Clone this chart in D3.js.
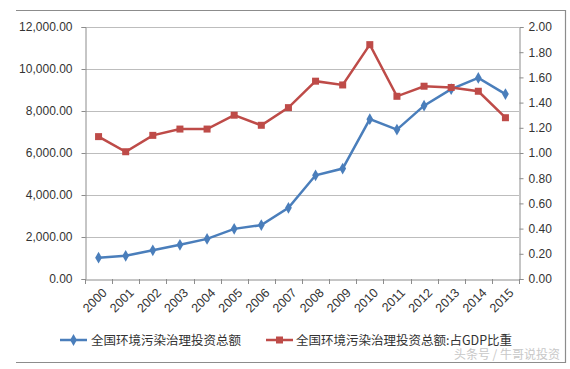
<!DOCTYPE html>
<html>
<head>
<meta charset="utf-8">
<script src="https://d3js.org/d3.v7.min.js"></script>
<style>
  body { margin: 0; background: #fff; }
  svg { display: block; }
  text { font-family: "Liberation Sans", Arial, sans-serif; }
</style>
</head>
<body>
<svg id="chart" width="570" height="369"></svg>
<script>
var years = ["2000","2001","2002","2003","2004","2005","2006","2007",
             "2008","2009","2010","2011","2012","2013","2014","2015"];
// 全国环境污染治理投资总额 (亿元)
var totalInvest = [1014.9, 1106.6, 1367.2, 1627.7, 1909.8, 2388.0, 2566.0, 3387.3,
                   4937.0, 5258.4, 7612.2, 7114.0, 8253.5, 9037.2, 9575.5, 8806.3];
// 占GDP比重 (%)
var gdpShare = [1.13, 1.01, 1.14, 1.19, 1.19, 1.30, 1.22, 1.36,
                1.57, 1.54, 1.86, 1.45, 1.53, 1.52, 1.49, 1.28];
var leftTicks = [0, 2000, 4000, 6000, 8000, 10000, 12000];
var rightTicks = [0, 0.2, 0.4, 0.6, 0.8, 1.0, 1.2, 1.4, 1.6, 1.8, 2.0];
var seriesNames = ["全国环境污染治理投资总额", "全国环境污染治理投资总额:占GDP比重"];

var blue = "#4a7ebb", red = "#be4b48";
var svg = d3.select("#chart");

// outer frame (top, right, bottom)
svg.append("path")
  .attr("d", "M16,10.5H565.5V362.5H16")
  .attr("fill", "none").attr("stroke", "#8c8c8c").attr("stroke-width", 1.2);

var plotL = 85, plotR = 519, plotT = 27, plotB = 279;

var x = d3.scaleBand().domain(years).range([plotL, plotR]);
var yL = d3.scaleLinear().domain([0, 12000]).range([plotB, plotT]);
var yR = d3.scaleLinear().domain([0, 2]).range([plotB, plotT]);
var cx = function(i) { return x(years[i]) + x.bandwidth() / 2; };

// gridlines
svg.append("g").selectAll("line").data(leftTicks.slice(1)).enter().append("line")
  .attr("x1", plotL).attr("x2", plotR)
  .attr("y1", d => Math.round(yL(d)) + 0.5).attr("y2", d => Math.round(yL(d)) + 0.5)
  .attr("stroke", "#bdbdbd").attr("stroke-width", 1);

var fmtL = d3.format(",.2f"), fmtR = d3.format(".2f");

var axL = svg.append("g").attr("transform", "translate(" + (plotL + 0.5) + ",0)")
  .call(d3.axisLeft(yL).tickValues(leftTicks).tickFormat(fmtL).tickSize(4).tickPadding(9));
var axR = svg.append("g").attr("transform", "translate(" + (plotR + 0.5) + ",0)")
  .call(d3.axisRight(yR).tickValues(rightTicks).tickFormat(fmtR).tickSize(4).tickPadding(5));
var axX = svg.append("g").attr("transform", "translate(0," + (plotB + 0.5) + ")")
  .call(d3.axisBottom(x).tickSize(0).tickFormat(d => d));

[axL, axR, axX].forEach(function(a) {
  a.select(".domain").attr("stroke", "#8c8c8c");
  a.selectAll(".tick line").attr("stroke", "#8c8c8c");
  a.selectAll("text").attr("font-size", 12).attr("fill", "#333");
});

// category boundary ticks on x axis
svg.append("g").selectAll("line").data(years.concat(["end"])).enter().append("line")
  .attr("x1", (d, i) => Math.round(plotL + i * x.bandwidth()) + 0.5)
  .attr("x2", (d, i) => Math.round(plotL + i * x.bandwidth()) + 0.5)
  .attr("y1", plotB).attr("y2", plotB + 5)
  .attr("stroke", "#8c8c8c");

axX.selectAll("text")
  .attr("font-size", 12.5)
  .attr("text-anchor", "end")
  .attr("x", 0).attr("y", 0).attr("dy", 0)
  .attr("transform", "translate(9,14) rotate(-45)");

// lines
var lineL = d3.line().x((d, i) => cx(i)).y(d => yL(d));
var lineR = d3.line().x((d, i) => cx(i)).y(d => yR(d));

svg.append("path").datum(totalInvest).attr("d", lineL)
  .attr("fill", "none").attr("stroke", blue).attr("stroke-width", 2.5);
svg.append("path").datum(gdpShare).attr("d", lineR)
  .attr("fill", "none").attr("stroke", red).attr("stroke-width", 2.5);

var diamond = d3.symbol().type(d3.symbolDiamond).size(40);
svg.append("g").selectAll("path").data(totalInvest).enter().append("path")
  .attr("d", diamond)
  .attr("transform", (d, i) => "translate(" + cx(i) + "," + yL(d) + ")")
  .attr("fill", blue);

svg.append("g").selectAll("rect").data(gdpShare).enter().append("rect")
  .attr("x", (d, i) => cx(i) - 3.5)
  .attr("y", d => yR(d) - 3.5)
  .attr("width", 7).attr("height", 7)
  .attr("fill", red);

// legend
var cjk = "'Noto Sans CJK SC', sans-serif";
var lg = svg.append("g");
lg.append("line").attr("x1", 60).attr("x2", 87).attr("y1", 340).attr("y2", 340)
  .attr("stroke", blue).attr("stroke-width", 2.5);
lg.append("path").attr("d", diamond).attr("transform", "translate(73.5,340)").attr("fill", blue);
lg.append("text").attr("x", 91).attr("y", 344.5).attr("font-size", 12.5).attr("fill", "#333")
  .style("font-family", cjk).text(seriesNames[0]);

lg.append("line").attr("x1", 266).attr("x2", 293).attr("y1", 340).attr("y2", 340)
  .attr("stroke", red).attr("stroke-width", 2.5);
lg.append("rect").attr("x", 276).attr("y", 336.5).attr("width", 7).attr("height", 7).attr("fill", red);
lg.append("text").attr("x", 296).attr("y", 344.5).attr("font-size", 12.5).attr("fill", "#333")
  .style("font-family", cjk).text(seriesNames[1]);

// watermark
svg.append("text").attr("x", 560).attr("y", 359).attr("text-anchor", "end")
  .attr("font-size", 12).attr("fill", "#c8c8c8")
  .style("font-family", cjk)
  .text("头条号 / 牛哥说投资");
</script>
</body>
</html>
